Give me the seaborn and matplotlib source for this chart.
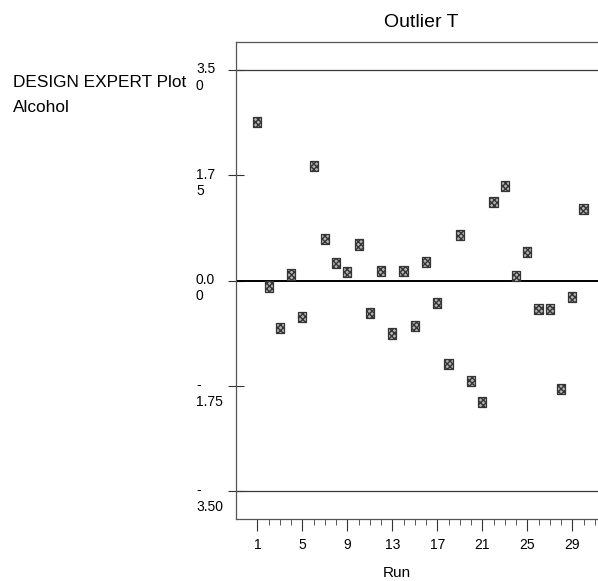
import matplotlib
matplotlib.use("Agg")
import matplotlib.pyplot as plt
import seaborn as sns
import pandas as pd
from matplotlib.ticker import FixedLocator

# Externally studentized residuals (outlier t) by run order
runs = list(range(1, 31))
outlier_t = [2.63, -0.10, -0.79, 0.10, -0.61, 1.91, 0.69, 0.29, 0.14, 0.60,
             -0.54, 0.16, -0.88, 0.16, -0.76, 0.31, -0.37, -1.39, 0.76, -1.67,
             -2.02, 1.30, 1.57, 0.08, 0.48, -0.47, -0.48, -1.80, -0.27, 1.19]

x_major = [1, 5, 9, 13, 17, 21, 25, 29]
y_ticks = [3.5, 1.75, 0.0, -1.75, -3.5]
y_labels = [("3.5", "0"), ("1.7", "5"), ("0.0", "0"), ("-", "1.75"), ("-", "3.50")]
limit = 3.5

sns.set_theme(style="white")
plt.rcParams["font.family"] = ["Liberation Sans", "DejaVu Sans"]

W, H = 598, 581
fig = plt.figure(figsize=(W / 100, H / 100), dpi=100)
ax = fig.add_axes([236 / W, 62 / H, 370 / W, 477 / H])

df = pd.DataFrame({"Run": runs, "t": outlier_t})

# reference lines: control limits and zero
ax.axhline(limit, color="#3a3a3a", lw=0.9, zorder=1)
ax.axhline(-limit, color="#3a3a3a", lw=0.9, zorder=1)
ax.axhline(0, color="black", lw=1.4, zorder=1)

rect = [(-0.4, -0.5), (0.4, -0.5), (0.4, 0.5), (-0.4, 0.5), (-0.4, -0.5)]
sns.scatterplot(data=df, x="Run", y="t", ax=ax, marker=rect, s=54,
                color="#b4b4b4", edgecolor="#353535", linewidth=0.9,
                zorder=3, legend=False)
coll = ax.collections[-1]
coll.set_hatch("xxxxxx")

ax.set_xlim(-0.9, 32)
ax.set_ylim(-3.965, 3.965)

# axes frame
for side in ["left", "top", "bottom"]:
    ax.spines[side].set_visible(True)
    ax.spines[side].set_color("#555555")
    ax.spines[side].set_linewidth(0.9)
ax.spines["right"].set_visible(False)

ax.xaxis.set_major_locator(FixedLocator(x_major))
ax.xaxis.set_minor_locator(FixedLocator([r for r in range(1, 33) if r not in x_major]))
ax.set_xticklabels([str(v) for v in x_major])
ax.tick_params(axis="x", which="major", direction="out", length=8.6, width=0.8,
               color="#333333", pad=5.2, labelsize=10, labelcolor="black",
               bottom=True)
ax.tick_params(axis="x", which="minor", direction="out", length=4.2, width=0.7,
               color="#555555", bottom=True)

ax.yaxis.set_major_locator(FixedLocator(y_ticks))
ax.tick_params(axis="y", which="major", direction="inout", length=12, width=0.8,
               color="#333333", left=True, labelleft=False)

# wrapped y tick labels
for val, (l1, l2) in zip(y_ticks, y_labels):
    ax.annotate(l1, xy=(0, val), xycoords=("axes fraction", "data"),
                xytext=(-28.8, 0.5), textcoords="offset points",
                ha="left", va="center", fontsize=10, color="black")
    ax.annotate(l2, xy=(0, val), xycoords=("axes fraction", "data"),
                xytext=(-28.8, -11.5), textcoords="offset points",
                ha="left", va="center", fontsize=10, color="black")

ax.set_xlabel("Run", fontsize=11, color="black")
ax.xaxis.set_label_coords((397 - 236) / 370, -(573 - 519) / 477)
ax.xaxis.label.set_va("center")
ax.set_ylabel("")

ax.set_title("Outlier T", fontsize=14, pad=10.8, color="black")

fig.text(13 / W, 1 - 83 / H, "DESIGN EXPERT Plot", ha="left", va="center",
         fontsize=12.4, color="black")
fig.text(13 / W, 1 - 107 / H, "Alcohol", ha="left", va="center",
         fontsize=12.4, color="black")

fig.savefig("out.png", dpi=100, facecolor="white")
